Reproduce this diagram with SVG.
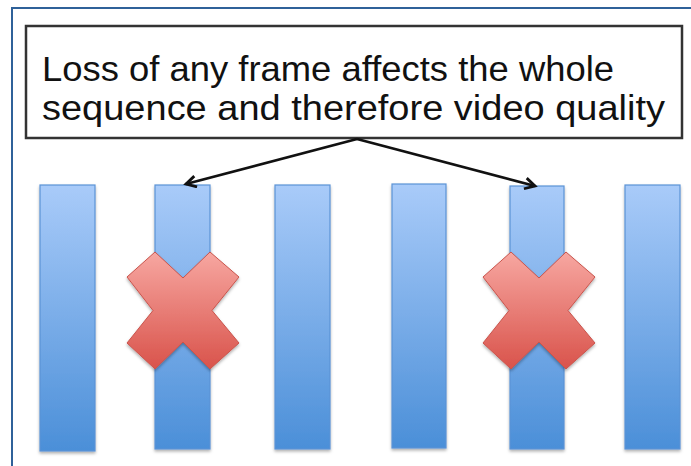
<svg xmlns="http://www.w3.org/2000/svg" width="691" height="466" viewBox="0 0 691 466">
  <style>
    .frame { fill: none; stroke: #2f6199; stroke-width: 2; }
    .box { fill: #ffffff; stroke: #333333; stroke-width: 2.5; }
    .label { font-family: "Liberation Sans", "Open Sans", sans-serif; font-size: 35px; fill: #111111; }
    .bar { fill: url(#barGrad); stroke: #5b93d6; stroke-width: 1.2; filter: url(#shadow); }
    .cross { fill: url(#crossGrad); stroke: #c9544c; stroke-width: 1; filter: url(#shadow); }
    .conn { fill: none; stroke: #111111; stroke-width: 2.8; marker-end: url(#arrow); }
  </style>
  <defs>
    <linearGradient id="barGrad" x1="0" y1="0" x2="0" y2="1">
      <stop offset="0" stop-color="#a9cbf9"/>
      <stop offset="1" stop-color="#4b8fd8"/>
    </linearGradient>
    <linearGradient id="crossGrad" x1="0" y1="0" x2="0" y2="1">
      <stop offset="0" stop-color="#f7a7a1"/>
      <stop offset="1" stop-color="#d9534b"/>
    </linearGradient>
    <filter id="shadow" x="-20%" y="-10%" width="140%" height="130%">
      <feDropShadow dx="0" dy="2" stdDeviation="1.5" flood-color="#000000" flood-opacity="0.3"/>
    </filter>
    <marker id="arrow" markerWidth="16" markerHeight="14" refX="11" refY="7" orient="auto" markerUnits="userSpaceOnUse">
      <path d="M1,1.5 L11,7 L1,12.5" fill="none" stroke="#111111" stroke-width="2.8"/>
    </marker>
  </defs>

  <rect class="frame" x="12" y="8" width="700" height="480"/>

  <g id="caption">
    <rect class="box" x="26" y="26" width="656" height="112"/>
    <text class="label" x="42" y="81" textLength="572" lengthAdjust="spacingAndGlyphs">Loss of any frame affects the whole</text>
    <text class="label" x="42" y="120" textLength="623" lengthAdjust="spacingAndGlyphs">sequence and therefore video quality</text>
  </g>

  <g id="frame1"><rect class="bar" x="40" y="185" width="55" height="266"/></g>
  <g id="frame2"><rect class="bar" x="155" y="185" width="55" height="264"/></g>
  <g id="frame3"><rect class="bar" x="275" y="185" width="55" height="264"/></g>
  <g id="frame4"><rect class="bar" x="392" y="184" width="54" height="264"/></g>
  <g id="frame5"><rect class="bar" x="510" y="186" width="54" height="263"/></g>
  <g id="frame6"><rect class="bar" x="625" y="185" width="55" height="264"/></g>

  <g id="loss1">
    <polygon class="cross" transform="translate(183,310.5)" points="-56,-33.5 -28,-58.5 0,-32.5 27,-58.5 56,-33.5 29,0 56,32.5 27,58.5 0,31.5 -28,58.5 -56,32.5 -30,0"/>
  </g>
  <g id="loss2">
    <polygon class="cross" transform="translate(539,310.5)" points="-56,-33.5 -28,-58.5 0,-32.5 27,-58.5 56,-33.5 29,0 56,32.5 27,58.5 0,31.5 -28,58.5 -56,32.5 -30,0"/>
  </g>

  <g id="connectors">
    <line class="conn" x1="357" y1="139" x2="186" y2="184"/>
    <line class="conn" x1="357" y1="139" x2="535" y2="186"/>
  </g>
</svg>
